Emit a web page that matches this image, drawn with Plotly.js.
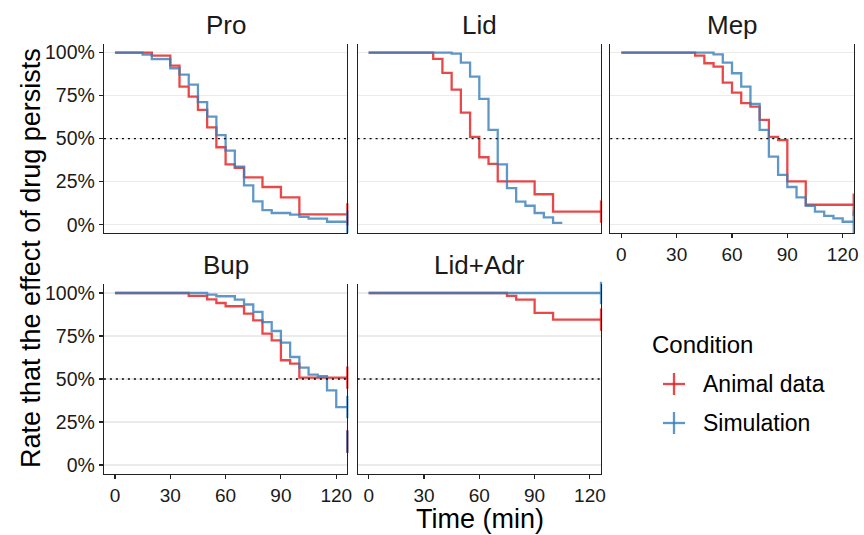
<!DOCTYPE html>
<html>
<head>
<meta charset="utf-8">
<script src="https://cdn.plot.ly/plotly-3.0.1.min.js"></script>
<style>html,body{margin:0;padding:0;background:#fff;}#chart{width:864px;height:535px;}</style>
</head>
<body>
<div id="chart"></div>
<script>
// ---------- data ----------
const panelNames = ["Pro", "Lid", "Mep", "Bup", "Lid+Adr"];
const conditionNames = ["Animal data", "Simulation"];
const legendTitle = "Condition";
const timeTicks = [0, 30, 60, 90, 120];
const rateTicks = [0, 0.25, 0.5, 0.75, 1];
const rateTickText = ["0%", "25%", "50%", "75%", "100%"];
const medianLine = 0.5;

const proAnimalTime = [0, 20, 30, 35, 40, 45, 50, 55, 60, 65, 70, 80, 90, 100, 126];
const proAnimalRate = [1, 0.983, 0.924, 0.802, 0.744, 0.667, 0.566, 0.45, 0.351, 0.331, 0.275, 0.219, 0.159, 0.06, 0.06];
const proSimTime = [0, 15, 20, 30, 35, 40, 45, 50, 55, 60, 65, 70, 75, 80, 85, 95, 100, 105, 115, 126];
const proSimRate = [1, 0.988, 0.962, 0.909, 0.872, 0.814, 0.712, 0.628, 0.521, 0.43, 0.337, 0.229, 0.136, 0.085, 0.068, 0.058, 0.045, 0.035, 0.017, 0.017];

const lidAnimalTime = [0, 35, 40, 45, 50, 55, 60, 65, 70, 90, 100, 126];
const lidAnimalRate = [1, 0.963, 0.882, 0.785, 0.651, 0.51, 0.392, 0.353, 0.252, 0.177, 0.076, 0.076];
const lidSimTime = [0, 45, 50, 55, 60, 65, 70, 75, 80, 85, 90, 95, 100, 105];
const lidSimRate = [1, 0.994, 0.942, 0.86, 0.731, 0.551, 0.351, 0.212, 0.134, 0.11, 0.068, 0.043, 0.01, 0.01];

const mepAnimalTime = [0, 40, 45, 50, 55, 60, 65, 70, 75, 80, 85, 90, 100, 126];
const mepAnimalRate = [1, 0.983, 0.938, 0.919, 0.826, 0.767, 0.706, 0.686, 0.609, 0.51, 0.492, 0.252, 0.116, 0.116];
const mepSimTime = [0, 50, 55, 60, 65, 70, 75, 80, 85, 90, 95, 100, 105, 110, 115, 120, 126];
const mepSimRate = [1, 0.99, 0.942, 0.88, 0.802, 0.702, 0.551, 0.395, 0.289, 0.219, 0.159, 0.11, 0.076, 0.051, 0.037, 0.017, 0.017];

const bupAnimalTime = [0, 40, 50, 55, 60, 70, 75, 80, 85, 90, 95, 100, 126];
const bupAnimalRate = [1, 0.983, 0.963, 0.942, 0.923, 0.88, 0.841, 0.764, 0.725, 0.609, 0.589, 0.508, 0.508];
const bupSimTime = [0, 50, 55, 65, 70, 75, 80, 85, 90, 95, 100, 105, 110, 115, 120, 126];
const bupSimRate = [1, 0.99, 0.981, 0.962, 0.933, 0.89, 0.831, 0.779, 0.712, 0.628, 0.566, 0.526, 0.517, 0.434, 0.337, 0.337];

const lidAdrAnimalTime = [0, 75, 80, 90, 100, 126];
const lidAdrAnimalRate = [1, 0.983, 0.962, 0.884, 0.845, 0.845];
const lidAdrSimTime = [0, 126];
const lidAdrSimRate = [1, 1];

// censored observations (+ marks)
const proAnimalCensorTime = [126], proAnimalCensorRate = [0.06];
const proSimCensorTime = [126], proSimCensorRate = [0.017];
const lidAnimalCensorTime = [126], lidAnimalCensorRate = [0.076];
const lidSimCensorTime = [], lidSimCensorRate = [];
const mepAnimalCensorTime = [126], mepAnimalCensorRate = [0.116];
const mepSimCensorTime = [126], mepSimCensorRate = [0.017];
const bupAnimalCensorTime = [126, 126], bupAnimalCensorRate = [0.508, 0.136];
const bupSimCensorTime = [126, 126], bupSimCensorRate = [0.337, 0.136];
const lidAdrAnimalCensorTime = [126], lidAdrAnimalCensorRate = [0.845];
const lidAdrSimCensorTime = [126], lidAdrSimCensorRate = [1];

// ---------- build ----------
const W = 864, H = 535;
const FONT = "Liberation Sans, Arial, sans-serif";
const colors = ["rgba(228,26,28,0.8)", "rgba(55,126,184,0.8)"];

const curves = [
  [[proAnimalTime, proAnimalRate, proAnimalCensorTime, proAnimalCensorRate], [proSimTime, proSimRate, proSimCensorTime, proSimCensorRate]],
  [[lidAnimalTime, lidAnimalRate, lidAnimalCensorTime, lidAnimalCensorRate], [lidSimTime, lidSimRate, lidSimCensorTime, lidSimCensorRate]],
  [[mepAnimalTime, mepAnimalRate, mepAnimalCensorTime, mepAnimalCensorRate], [mepSimTime, mepSimRate, mepSimCensorTime, mepSimCensorRate]],
  [[bupAnimalTime, bupAnimalRate, bupAnimalCensorTime, bupAnimalCensorRate], [bupSimTime, bupSimRate, bupSimCensorTime, bupSimCensorRate]],
  [[lidAdrAnimalTime, lidAdrAnimalRate, lidAdrAnimalCensorTime, lidAdrAnimalCensorRate], [lidAdrSimTime, lidAdrSimRate, lidAdrSimCensorTime, lidAdrSimCensorRate]]
];

// panel geometry in pixels
const colX = [[103.9, 347.3], [357.6, 601.0], [610.3, 853.7]];
const rowY = [[44.0, 233.3], [284.4, 473.6]];
const panelPos = [[0, 0], [1, 0], [2, 0], [0, 1], [1, 1]];
const bottomVisible = [false, false, true, true, true];
const leftVisible = [true, false, false, true, false];

const px = v => v / W;
const py = v => 1 - v / H;

const traces = [];
const layout = {
  width: W, height: H,
  margin: {l: 0, r: 0, t: 0, b: 0},
  paper_bgcolor: "#fff", plot_bgcolor: "#fff",
  font: {family: FONT, color: "#1a1a1a"},
  showlegend: false,
  shapes: [], annotations: []
};

panelNames.forEach((name, p) => {
  const sfx = p === 0 ? "" : String(p + 1);
  const xa = "x" + sfx, ya = "y" + sfx;
  const [c, r] = panelPos[p];
  layout["xaxis" + sfx] = {
    domain: [px(colX[c][0]), px(colX[c][1])],
    anchor: ya,
    range: [-6, 126],
    tickvals: timeTicks,
    showgrid: false, zeroline: false,
    showline: true, linecolor: "#222", linewidth: 1.1,
    ticks: bottomVisible[p] ? "outside" : "", ticklen: 4, tickwidth: 1.1, tickcolor: "#222",
    showticklabels: bottomVisible[p],
    tickfont: {size: 19, family: FONT, color: "#1a1a1a"},
    fixedrange: true
  };
  layout["yaxis" + sfx] = {
    domain: [py(rowY[r][1]), py(rowY[r][0])],
    anchor: xa,
    range: [-0.05, 1.05],
    tickvals: rateTicks, ticktext: rateTickText,
    showgrid: true, gridcolor: "#EBEBEB", gridwidth: 1.1,
    zeroline: false,
    showline: true, mirror: true, linecolor: "#222", linewidth: 1.1,
    ticks: leftVisible[p] ? "outside" : "", ticklen: 4, tickwidth: 1.1, tickcolor: "#222",
    showticklabels: leftVisible[p],
    tickfont: {size: 19.5, family: FONT, color: "#1a1a1a"},
    fixedrange: true
  };
  // median reference line
  layout.shapes.push({
    type: "line", xref: xa + " domain", yref: ya,
    x0: 0, x1: 1, y0: medianLine, y1: medianLine,
    line: {color: "#000", width: 1.3, dash: "2px,4px"}, layer: "above"
  });
  // strip title
  layout.annotations.push({
    text: name, xref: "paper", yref: "paper",
    x: px((colX[c][0] + colX[c][1]) / 2),
    y: py(r === 0 ? 25 : 265),
    xanchor: "center", yanchor: "middle", showarrow: false,
    font: {size: 26, family: FONT, color: "#1a1a1a"}
  });
  curves[p].forEach((cv, k) => {
    const [tt, rr] = cv;
    traces.push({
      type: "scatter", mode: "lines", x: tt, y: rr, xaxis: xa, yaxis: ya,
      name: conditionNames[k],
      line: {shape: "hv", color: colors[k], width: 2.3},
      hoverinfo: "skip"
    });
  });
  curves[p].forEach((cv, k) => {
    const [tt, rr, ct, cr] = cv;
    if (ct.length === 0) return;
    traces.push({
      type: "scatter", mode: "markers",
      x: ct, y: cr, xaxis: xa, yaxis: ya,
      name: conditionNames[k],
      marker: {symbol: "line-ns", size: 16, color: colors[k], line: {color: colors[k], width: 2.3}},
      cliponaxis: false, hoverinfo: "skip"
    });
  });
});

// legend (drawn as keys + labels)
layout.annotations.push({
  text: legendTitle, xref: "paper", yref: "paper",
  x: px(650), y: py(344), xanchor: "left", yanchor: "middle", showarrow: false,
  font: {size: 24, family: FONT, color: "#000"}
});
const legendRows = [384, 423];
conditionNames.forEach((nm, k) => {
  const yc = legendRows[k];
  layout.shapes.push({type: "line", xref: "paper", yref: "paper", x0: px(663), x1: px(685), y0: py(yc), y1: py(yc),
    line: {color: colors[k], width: 2.3}});
  layout.shapes.push({type: "line", xref: "paper", yref: "paper", x0: px(674), x1: px(674), y0: py(yc - 11), y1: py(yc + 11),
    line: {color: colors[k], width: 2.3}});
  layout.annotations.push({
    text: nm, xref: "paper", yref: "paper",
    x: px(701), y: py(yc), xanchor: "left", yanchor: "middle", showarrow: false,
    font: {size: 23, family: FONT, color: "#000"}
  });
});

// axis titles
layout.annotations.push({
  text: "Time (min)", xref: "paper", yref: "paper",
  x: px(480), y: py(519), xanchor: "center", yanchor: "middle", showarrow: false,
  font: {size: 27, family: FONT, color: "#000"}
});
layout.annotations.push({
  text: "Rate that the effect of drug persists", xref: "paper", yref: "paper",
  x: px(31), y: py(258), xanchor: "center", yanchor: "middle", showarrow: false, textangle: -90,
  font: {size: 27, family: FONT, color: "#000"}
});

Plotly.newPlot("chart", traces, layout, {displayModeBar: false, staticPlot: true});
</script>
</body>
</html>
